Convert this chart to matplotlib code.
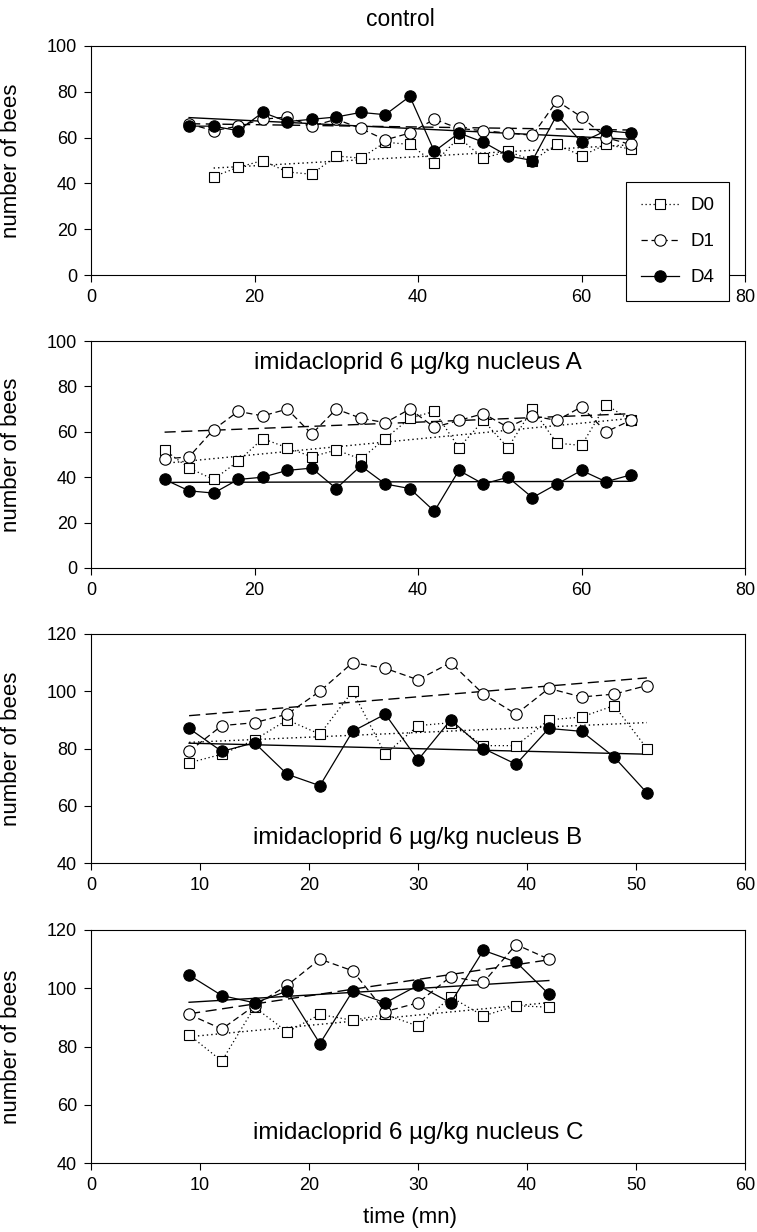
import numpy as np
import matplotlib
matplotlib.use("Agg")
import matplotlib.pyplot as plt
from matplotlib.lines import Line2D

plt.rcParams['font.family'] = ['Liberation Sans', 'DejaVu Sans']

# ---- control ----
ctrl_t_d0 = list(range(15, 67, 3))
ctrl_t = list(range(12, 67, 3))
ctrl_d0 = [43, 47, 50, 45, 44, 52, 51, 58, 57, 49, 60, 51, 54, 50, 57, 52, 57, 55]
ctrl_d1 = [66, 63, 65, 68, 69, 65, 68, 64, 59, 62, 68, 64, 63, 62, 61, 76, 69, 60, 57]
ctrl_d4 = [65, 65, 63, 71, 67, 68, 69, 71, 70, 78, 54, 62, 58, 52, 50, 70, 58, 63, 62]

# ---- nucleus A ----
a_t = list(range(9, 67, 3))
a_d0 = [52, 44, 39, 47, 57, 53, 49, 52, 48, 57, 66, 69, 53, 65, 53, 70, 55, 54, 72, 65]
a_d1 = [48, 49, 61, 69, 67, 70, 59, 70, 66, 64, 70, 62, 65, 68, 62, 67, 65, 71, 60, 65]
a_d4 = [39, 34, 33, 39, 40, 43, 44, 35, 45, 37, 35, 25, 43, 37, 40, 31, 37, 43, 38, 41]

# ---- nucleus B ----
b_t = list(range(9, 52, 3))
b_d0 = [75, 78, 83, 90, 85, 100, 78, 88, 89, 81, 81, 90, 91, 95, 80]
b_d1 = [79, 88, 89, 92, 100, 110, 108, 104, 110, 99, 92, 101, 98, 99, 102]
b_d4 = [87, 79, 82, 71, 67, 86, 92, 76, 90, 80, 74.5, 87, 86, 77, 64.5]

# ---- nucleus C ----
c_t = list(range(9, 43, 3))
c_d0 = [84, 75, 93.5, 85, 91, 89, 91, 87, 97, 90.5, 94, 93.5]
c_d1 = [91, 86, 94, 101, 110, 106, 92, 95, 104, 102, 115, 110]
c_d4 = [104.5, 97.5, 95, 99, 81, 99, 95, 101, 95, 113, 109, 98]

series_names = ['D0', 'D1', 'D4']

W, H = 757, 1232
fig = plt.figure(figsize=(W / 100, H / 100), dpi=100)

marker_style = {
    'D0': dict(marker='s', mfc='white', ms=7.2, ls=(0, (1, 2.2)), zorder=3),
    'D1': dict(marker='o', mfc='white', ms=8.2, ls=(0, (5, 3)), zorder=4),
    'D4': dict(marker='o', mfc='black', ms=8.2, ls='-', zorder=5),
}
trend_style = {
    'D0': dict(ls=(0, (1, 2.2))),
    'D1': dict(ls=(0, (8, 4))),
    'D4': dict(ls='-'),
}


def px_axes(left, right, top, bottom):
    return fig.add_axes([left / W, 1 - bottom / H, (right - left) / W, (bottom - top) / H])


def draw_panel(ax, data, xlim, xticks, ylim, yticks):
    for name, (t, v) in zip(series_names, data):
        t = np.asarray(t, float)
        v = np.asarray(v, float)
        st = marker_style[name]
        ax.plot(t, v, color='black', lw=0.9, mec='black', mew=0.8, **st)
        slope, icpt = np.polyfit(t, v, 1)
        tt = np.array([t[0], t[-1]])
        ax.plot(tt, icpt + slope * tt, color='black', lw=1.0,
                zorder=2, **trend_style[name])
    ax.set_xlim(*xlim)
    ax.set_ylim(*ylim)
    ax.set_xticks(xticks)
    ax.set_yticks(yticks)
    ax.tick_params(direction='out', length=5, width=0.8, labelsize=13, pad=5)
    for sp in ax.spines.values():
        sp.set_linewidth(0.8)
    ax.set_ylabel('number of bees', fontsize=16)
    ax.yaxis.set_label_coords(-0.106, 0.5)


ax1 = px_axes(91, 745, 46, 275)
draw_panel(ax1, [(ctrl_t_d0, ctrl_d0), (ctrl_t, ctrl_d1), (ctrl_t, ctrl_d4)],
           (0, 80), [0, 20, 40, 60, 80], (0, 100), [0, 20, 40, 60, 80, 100])

ax2 = px_axes(91, 745, 341, 568)
draw_panel(ax2, [(a_t, a_d0), (a_t, a_d1), (a_t, a_d4)],
           (0, 80), [0, 20, 40, 60, 80], (0, 100), [0, 20, 40, 60, 80, 100])
ax2.text(0.5, 0.905, 'imidacloprid 6 µg/kg nucleus A', transform=ax2.transAxes,
         ha='center', va='center', fontsize=17.5)

ax3 = px_axes(91, 745, 634, 863)
draw_panel(ax3, [(b_t, b_d0), (b_t, b_d1), (b_t, b_d4)],
           (0, 60), [0, 10, 20, 30, 40, 50, 60], (40, 120), [40, 60, 80, 100, 120])
ax3.text(0.5, 0.11, 'imidacloprid 6 µg/kg nucleus B', transform=ax3.transAxes,
         ha='center', va='center', fontsize=17.5)

ax4 = px_axes(91, 745, 930, 1163)
draw_panel(ax4, [(c_t, c_d0), (c_t, c_d1), (c_t, c_d4)],
           (0, 60), [0, 10, 20, 30, 40, 50, 60], (40, 120), [40, 60, 80, 100, 120])
ax4.text(0.5, 0.13, 'imidacloprid 6 µg/kg nucleus C', transform=ax4.transAxes,
         ha='center', va='center', fontsize=17.5)

fig.text(400 / W, 1 - 20 / H, 'control', ha='center', va='center', fontsize=16.5)
fig.text(410 / W, 1 - 1217 / H, 'time (mn)', ha='center', va='center', fontsize=16)

handles = [
    Line2D([], [], color='black', lw=0.9, mec='black', mew=0.8, **marker_style[n])
    for n in series_names
]
leg = fig.legend(handles, series_names, loc='upper left',
                 bbox_to_anchor=(617 / W, 1 - 173 / H), frameon=True,
                 fancybox=False, framealpha=1, edgecolor='black', fontsize=13.5,
                 numpoints=1, handlelength=2.0, handletextpad=0.6,
                 labelspacing=1.0, borderpad=0.8)
leg.get_frame().set_linewidth(0.8)

fig.savefig('out.png', dpi=100)
